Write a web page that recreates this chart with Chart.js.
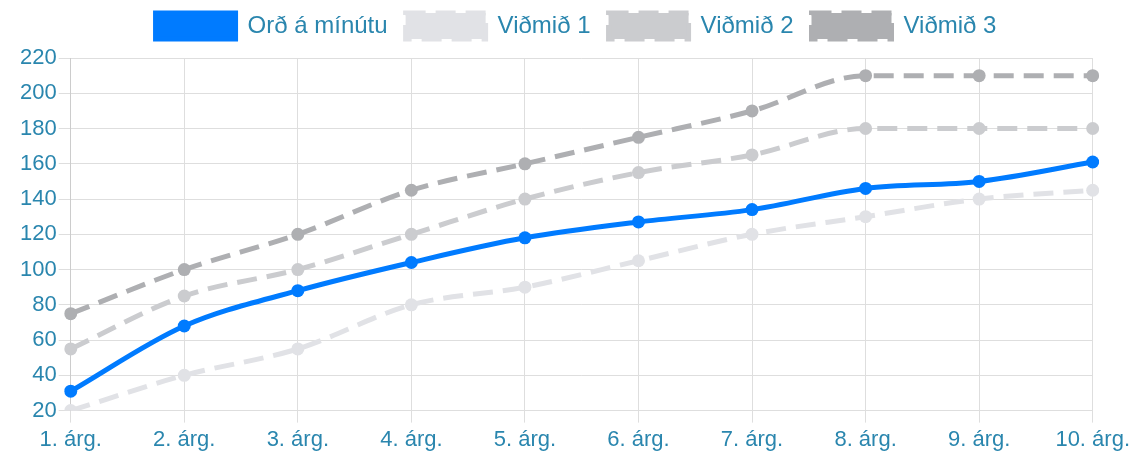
<!DOCTYPE html>
<html>
<head>
<meta charset="utf-8">
<script src="https://cdn.jsdelivr.net/npm/chart.js@4/dist/chart.umd.min.js"></script>
<style>
  html, body { margin: 0; padding: 0; background: #fff; }
  #wrap { position: relative; width: 1134px; height: 461px; }
</style>
</head>
<body>
<div id="wrap"><canvas id="readingChart"></canvas></div>
<script>
// Data
const grades = ['1. árg.', '2. árg.', '3. árg.', '4. árg.', '5. árg.', '6. árg.', '7. árg.', '8. árg.', '9. árg.', '10. árg.'];
const wordsPerMinute = [31, 68, 88, 104, 118, 127, 134, 146, 150, 161];
const benchmark1 = [20, 40, 55, 80, 90, 105, 120, 130, 140, 145];
const benchmark2 = [55, 85, 100, 120, 140, 155, 165, 180, 180, 180];
const benchmark3 = [75, 100, 120, 145, 160, 175, 190, 210, 210, 210];
const yTicks = [20, 40, 60, 80, 100, 120, 140, 160, 180, 200, 220];

const textColor = '#2a86ae';
const gridColor = '#dedede';
const fontFamily = 'Liberation Sans, Arial, sans-serif';

function lineSet(label, data, color, dashed) {
  return {
    label: label,
    data: data,
    borderColor: color,
    backgroundColor: color,
    borderWidth: 5,
    borderDash: dashed ? [20, 10] : [],
    pointRadius: 6.5,
    pointBorderWidth: 0,
    pointBackgroundColor: color,
    cubicInterpolationMode: 'monotone',
    fill: false
  };
}

// give the legend a bit more room underneath
const legendMargin = {
  id: 'legendMargin',
  beforeInit(chart) {
    const fit = chart.legend.fit;
    chart.legend.fit = function () {
      fit.bind(chart.legend)();
      this.height += 9;
    };
  }
};

document.addEventListener('DOMContentLoaded', () => {
  const ctx = document.getElementById('readingChart').getContext('2d');
  new Chart(ctx, {
    type: 'line',
    data: {
      labels: grades,
      datasets: [
        lineSet('Orð á mínútu', wordsPerMinute, '#007bff', false),
        lineSet('Viðmið 1', benchmark1, '#e1e2e6', true),
        lineSet('Viðmið 2', benchmark2, '#cbcccf', true),
        lineSet('Viðmið 3', benchmark3, '#aeafb2', true)
      ]
    },
    plugins: [legendMargin],
    options: {
      responsive: true,
      maintainAspectRatio: false,
      animation: false,
      layout: { padding: { top: -5, right: 0, bottom: 4, left: 18 } },
      plugins: {
        legend: {
          position: 'top',
          labels: {
            boxWidth: 80,
            boxHeight: 26,
            padding: 18,
            color: textColor,
            font: { family: fontFamily, size: 24 }
          }
        },
        tooltip: { enabled: false }
      },
      scales: {
        x: {
          grid: { color: gridColor, tickLength: 12 },
          border: { color: gridColor },
          ticks: {
            color: textColor,
            padding: 4,
            maxRotation: 0,
            font: { family: fontFamily, size: 22 }
          }
        },
        y: {
          min: yTicks[0],
          max: yTicks[yTicks.length - 1],
          afterBuildTicks: (axis) => { axis.ticks = yTicks.map(v => ({ value: v })); },
          grid: { color: gridColor, tickLength: 12 },
          border: { color: '#cccccc' },
          ticks: {
            color: textColor,
            padding: 2,
            font: { family: fontFamily, size: 22 }
          }
        }
      }
    }
  });
});
</script>
</body>
</html>
